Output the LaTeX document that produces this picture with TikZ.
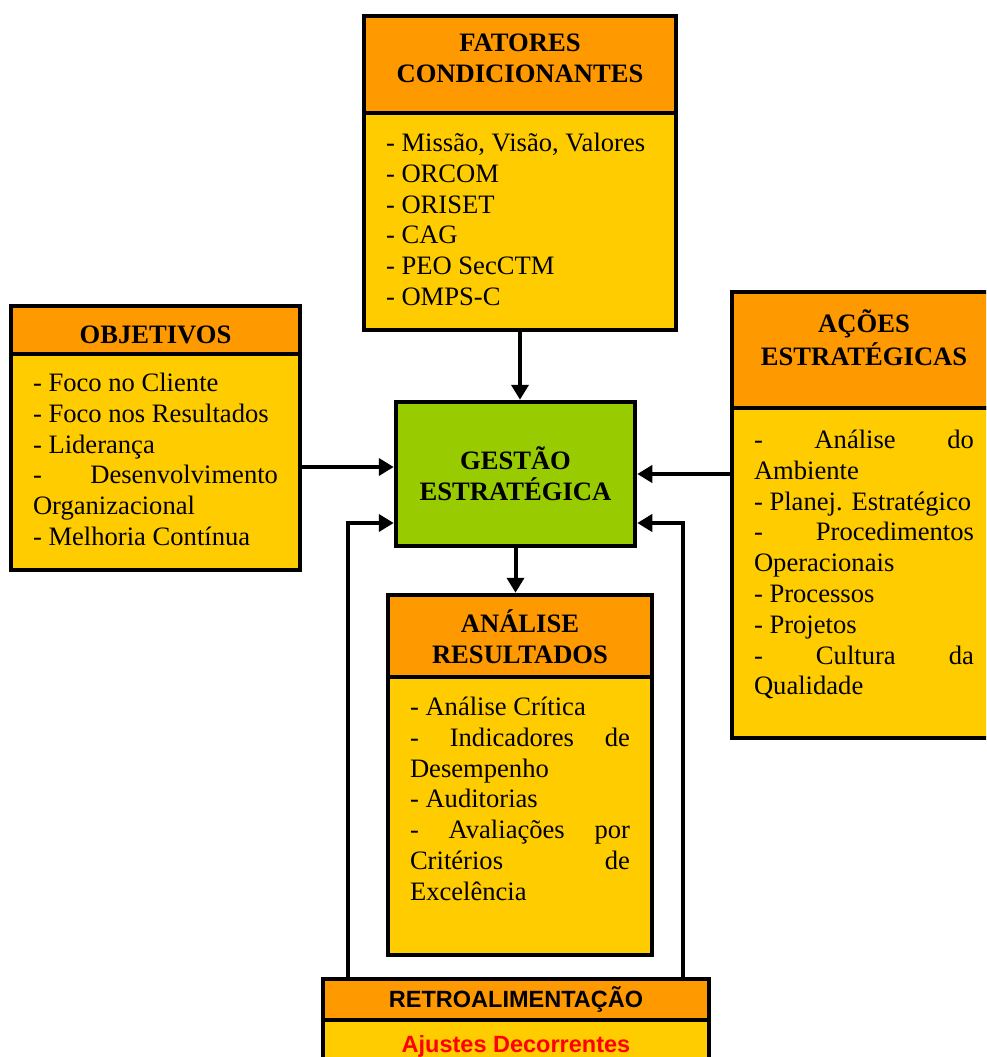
\documentclass[tikz,border=0pt]{standalone}
\usepackage{fontspec}
\setmainfont{Liberation Serif}
\setsansfont{Liberation Sans}
\usetikzlibrary{arrows.meta,positioning}
\definecolor{hdrorange}{HTML}{FF9900}
\definecolor{bodyyellow}{HTML}{FFCC00}
\definecolor{gestgreen}{HTML}{99CC00}
\newcommand{\cell}[4][17pt]{\parbox[c][#3][t]{#2}{\vspace*{#1}\strut #4}}
\begin{document}
\begin{tikzpicture}[
  x=1pt, y=-1pt,
  >={Triangle[length=15pt,width=17pt]},
  panel/.style={draw, line width=4.5pt, inner xsep=22pt, inner ysep=0pt, outer sep=0pt},
  head/.style={panel, fill=hdrorange, font=\fontsize{26.6pt}{30.8pt}\selectfont\bfseries},
  body/.style={panel, fill=bodyyellow, font=\fontsize{26.6pt}{30.8pt}\selectfont},
  feed/.style={panel, font=\fontsize{23.5pt}{28pt}\selectfont\sffamily\bfseries},
  flow/.style={->, line width=4pt, shorten >=2.25pt}
]
\clip (0,0) rectangle (986,1057);

\node[head, anchor=north west] (fatH) at (364,16) {\cell[14pt]{268pt}{97pt}{\centering FATORES\\CONDICIONANTES}};
\node[body, below=0pt of fatH] (fatB) {\cell{268pt}{217pt}{- Missão, Visão, Valores\\- ORCOM\\- ORISET\\- CAG\\- PEO SecCTM\\- OMPS-C}};

\node[head, anchor=north west] (objH) at (11,306) {\cell[16pt]{245pt}{48pt}{\centering OBJETIVOS}};
\node[body, below=0pt of objH] (objB) {\cell[16pt]{245pt}{216pt}{- Foco no Cliente\\- Foco nos Resultados\\- Liderança\\-\hfill Desenvolvimento\\Organizacional\\- Melhoria Contínua}};

\node[panel, fill=gestgreen, inner sep=0pt, minimum width=239pt, minimum height=144pt, align=center, anchor=north west,
  font=\fontsize{26.6pt}{30.8pt}\selectfont\bfseries] (ges) at (396,402) {GESTÃO\\ESTRATÉGICA};

\node[head, anchor=north west] (actH) at (732,292) {\cell[18pt]{220pt}{116pt}{\centering AÇÕES\\ESTRATÉGICAS}};
\node[body, below=0pt of actH] (actB) {\cell[19pt]{220pt}{330pt}{-\hfill Análise\hfill do\\Ambiente\\- Planej. Estratégico\\-\hfill Procedimentos\\Operacionais\\- Processos\\- Projetos\\-\hfill Cultura\hfill da\\Qualidade}};

\node[head, anchor=north west] (anaH) at (388,595) {\cell[15pt]{220pt}{82pt}{\centering ANÁLISE\\RESULTADOS}};
\node[body, below=0pt of anaH] (anaB) {\cell{220pt}{278pt}{- Análise Crítica\\-\hfill Indicadores\hfill de\\Desempenho\\- Auditorias\\-\hfill Avaliações\hfill por\\Critérios\hfill de\\Excelência}};

\node[feed, fill=hdrorange, inner sep=0pt, minimum width=386pt, minimum height=41pt, anchor=north west] (retH) at (323,979) {RETROALIMENTAÇÃO};
\node[feed, fill=bodyyellow, text=red, below=0pt of retH] (retB) {\cell[12.4pt]{342pt}{90pt}{\centering Ajustes Decorrentes}};

\draw[flow] (fatB.south) -- (fatB.south |- ges.north);
\draw[flow] ([yshift=-5pt]objB.east) -- ([yshift=-5pt]objB.east -| ges.west);
\draw[flow] (ges.east -| actB.west) -- (ges.east);
\draw[flow] (ges.south) -- (ges.south |- anaH.north);
\draw[flow] ([xshift=25pt]retH.north west) |- ([yshift=-49pt]ges.west);
\draw[flow] ([xshift=-26pt]retH.north east) |- ([yshift=-49pt]ges.east);
\end{tikzpicture}
\end{document}
